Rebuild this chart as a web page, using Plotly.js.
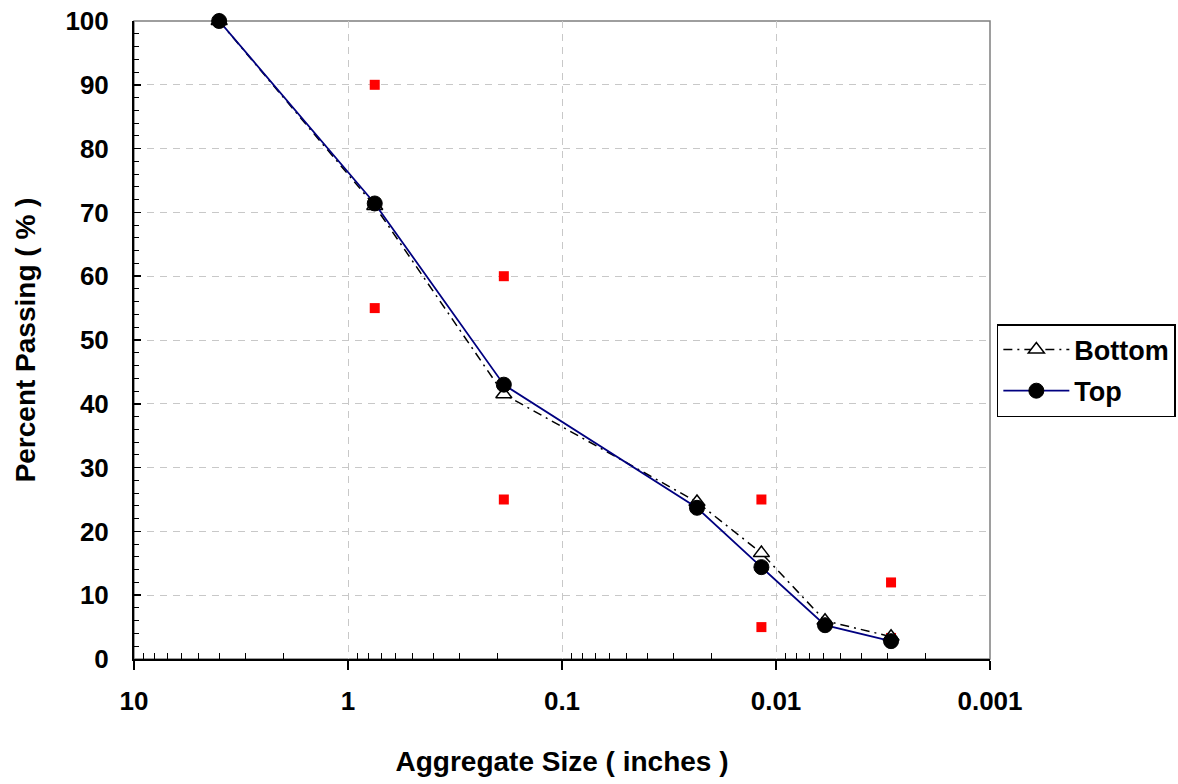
<!DOCTYPE html>
<html>
<head>
<meta charset="utf-8">
<script src="https://cdn.plot.ly/plotly-3.0.1.min.js"></script>
<style>html,body{margin:0;padding:0;background:#fff;}#chart{width:1178px;height:784px;}</style>
</head>
<body>
<div id="chart"></div>
<script>
// Sieve sizes (inches)
const sizes = [4, 0.75, 0.187, 0.0234, 0.0117, 0.0059, 0.0029];
const bottomPassing = [100, 71.0, 41.5, 24.6, 16.6, 6.0, 3.5];
const topPassing = [100, 71.4, 43.0, 23.7, 14.4, 5.3, 2.8];
// Specification limit points
const specSizes = [0.75, 0.75, 0.187, 0.187, 0.0117, 0.0117, 0.0029, 0.0029];
const specValues = [90, 55, 60, 25, 25, 5, 12, 3.3];
const xTickVals = [10, 1, 0.1, 0.01, 0.001];
const xTickText = ['10', '1', '0.1', '0.01', '0.001'];

const FONT = 'Liberation Sans, Arial, sans-serif';
const minorX = [];
for (const e of [-3, -2, -1, 0]) for (let k = 2; k <= 9; k++) minorX.push(k * Math.pow(10, e));

const traces = [
  {x: specSizes, y: specValues, type: 'scatter', mode: 'markers', showlegend: false, cliponaxis: false,
   marker: {symbol: 'square', size: 10, color: '#ff0000'}, hoverinfo: 'skip'},
  {x: sizes, y: bottomPassing, type: 'scatter', mode: 'lines+markers', name: 'Bottom', legendgroup: 'a', cliponaxis: false,
   line: {color: '#000000', width: 1.5, dash: '9px,5px,2px,5px'},
   marker: {symbol: 'triangle-up', size: 14, color: '#ffffff', line: {color: '#000000', width: 1.5}}},
  {x: sizes, y: topPassing, type: 'scatter', mode: 'lines+markers', name: 'Top', legendgroup: 'b', cliponaxis: false,
   line: {color: '#000080', width: 1.8},
   marker: {symbol: 'circle', size: 15, color: '#000000', line: {color: '#000000', width: 1}}}
];

const layout = {
  width: 1178, height: 784,
  margin: {l: 134, r: 188, t: 21, b: 125, autoexpand: false},
  paper_bgcolor: '#ffffff', plot_bgcolor: '#ffffff',
  font: {family: FONT, size: 26, color: '#000000'},
  showlegend: true,
  legend: {x: 1.008, y: 0.525, xanchor: 'left', yanchor: 'top',
    bordercolor: '#000000', borderwidth: 1.5, bgcolor: '#ffffff',
    font: {family: FONT, size: 27, color: '#000000', weight: 'bold'},
    tracegroupgap: 3, traceorder: 'grouped', itemwidth: 66},
  xaxis: {
    type: 'log', range: [1, -3], autorange: false, automargin: false,
    tickmode: 'array', tickvals: xTickVals, ticktext: xTickText,
    ticks: 'outside', ticklen: 9, tickwidth: 1.5, tickcolor: '#000000',
    ticklabelstandoff: 9,
    tickfont: {family: FONT, size: 26, color: '#000000', weight: 'bold'},
    showline: true, linecolor: '#000000', linewidth: 2,
    showgrid: true, gridcolor: '#c8c8c8', gridwidth: 1, griddash: '7px,6px',
    zeroline: false,
    minor: {tickmode: 'array', tickvals: minorX, ticks: 'inside', ticklen: 6, tickwidth: 1, tickcolor: '#000000', showgrid: false},
    title: {text: 'Aggregate Size ( inches )', standoff: 36,
      font: {family: FONT, size: 28, color: '#000000', weight: 'bold'}}
  },
  yaxis: {
    range: [0, 100], autorange: false, automargin: false,
    tickmode: 'linear', tick0: 0, dtick: 10,
    ticks: 'inside', ticklen: 7, tickwidth: 1.5, tickcolor: '#000000',
    ticklabelstandoff: 18,
    tickfont: {family: FONT, size: 26, color: '#000000', weight: 'bold'},
    showline: true, linecolor: '#000000', linewidth: 2,
    showgrid: true, gridcolor: '#c8c8c8', gridwidth: 1, griddash: '7px,6px',
    zeroline: false,
    minor: {dtick: 2, tick0: 0, ticks: 'inside', ticklen: 5, tickwidth: 1, tickcolor: '#000000', showgrid: false},
    title: {text: 'Percent Passing ( % )', standoff: 22,
      font: {family: FONT, size: 28, color: '#000000', weight: 'bold'}}
  },
  shapes: [
    {type: 'rect', xref: 'paper', yref: 'paper', x0: 0, x1: 1, y0: 0, y1: 1,
     line: {color: '#7f7f7f', width: 1.5}, layer: 'below'}
  ]
};

Plotly.newPlot('chart', traces, layout, {staticPlot: true, displayModeBar: false});
</script>
</body>
</html>
